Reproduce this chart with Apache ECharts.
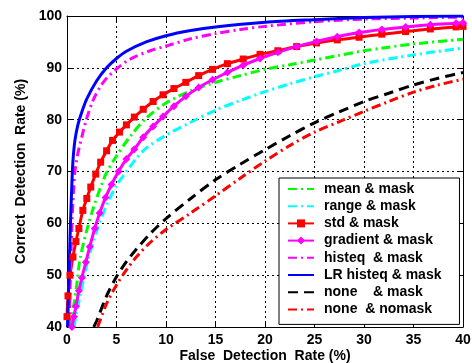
<!DOCTYPE html>
<html>
<head>
<meta charset="utf-8">
<script src="https://cdn.jsdelivr.net/npm/echarts@6/dist/echarts.min.js"></script>
<style>
  html, body { margin: 0; padding: 0; background: #fff; }
  #chart { width: 472px; height: 363px; }
</style>
</head>
<body>
<div id="chart"></div>
<script>
// ROC curves, [false detection %, correct detection %]
const meanMask = [[0.4,40],[0.5,42],[0.75,45],[1,48.4],[1.3,53],[2,58.7],[2.7,63.2],[3.5,67.5],[4,69.8],[5,73],[6.4,76.8],[8,80.3],[10,83.2],[12.5,85.6],[15,87.2],[17.5,88.5],[20,89.7],[22.5,90.6],[25,91.5],[27.5,92.4],[30,93.3],[35,94.6],[40,95.5]];
const rangeMask = [[0.7,40],[1,43],[1.3,45.8],[2,52],[3,58.5],[4,63.5],[5,67.3],[6,70],[7,72.5],[8,74.5],[10,77],[12.5,79.5],[15,81.8],[17.5,83.7],[20,85.4],[22.5,86.9],[25,88.3],[27.5,89.5],[30,90.8],[35,92.5],[40,93.8]];
const stdMask = [[0,42],[0.1,46],[0.3,50],[0.6,53.5],[0.9,56.5],[1.2,59],[1.6,62.5],[2,64.8],[2.4,67],[2.9,69.5],[3.4,71.8],[4,74],[4.6,76],[5.3,77.6],[6,79],[6.8,80.5],[7.7,82],[8.7,83.5],[9.7,84.8],[10.8,86],[12,87.2],[13.3,88.5],[14.7,89.7],[16.2,90.8],[17.8,91.7],[19.5,92.6],[21.3,93.3],[23.2,94.1],[25.2,94.8],[27.3,95.4],[29.5,95.9],[31.8,96.5],[34.2,97],[36.7,97.5],[39.3,97.9],[40,98]];
const gradientMask = [[0.5,40],[0.7,42],[0.9,44],[1.2,47],[1.5,49.5],[1.9,52.5],[2.3,55.5],[2.8,59],[3.3,62],[3.9,65],[4.5,67.5],[5.2,70],[6,72.4],[6.8,74.3],[7.7,76.6],[8.7,78.7],[9.7,80.6],[10.8,82.6],[12,84.5],[13.3,86.2],[14.7,87.7],[16.2,89.1],[17.8,90.5],[19.5,91.8],[21.3,93],[23.2,94.1],[25.2,95.1],[27.3,96],[29.5,96.8],[31.8,97.4],[34.2,97.9],[36.7,98.3],[39.3,98.6],[40,98.7]];
const histeqMask = [[0.2,40],[0.35,50],[0.5,60],[0.65,66],[0.8,70],[1.1,73.5],[1.5,76.7],[2,80.3],[2.7,84],[3.7,87.3],[5,89.8],[6.4,91.7],[8.4,93.3],[10,94.2],[12.5,95.6],[15,96.6],[17.5,97.4],[20,98],[25,98.9],[30,99.4],[35,99.6],[40,99.8]];
const lrHisteqMask = [[0.05,40],[0.2,50],[0.35,60],[0.5,68],[0.6,72],[0.8,76],[1.1,79],[1.5,81.5],[2,84],[3,87.5],[4,90],[5,91.8],[6,93.2],[8,95],[10,96.2],[12.5,97.2],[15,97.9],[20,98.8],[25,99.3],[30,99.7],[35,99.9],[40,100]];
const noneMask = [[2.7,40],[3,41.2],[4,46],[5,49.7],[6,52.6],[7,55],[8.4,58],[10,60.9],[12.5,64.8],[15,68.4],[17.5,71.4],[20,74.2],[22.5,76.9],[25,79.4],[27.5,81.5],[30,83.5],[32.5,85.1],[35,86.7],[37.5,88],[40,89.1]];
const noneNomask = [[3.1,40],[4,44.5],[5,48.1],[6,51],[7,53.5],[8.4,56.3],[10,58.8],[12.5,62],[15,65.3],[17.5,68.7],[20,72],[22.5,75],[25,77.6],[27.5,79.6],[30,81.6],[32.5,83.5],[35,85.3],[37.5,86.7],[40,87.8]];

const seriesNames = ["mean & mask", "range & mask", "std & mask", "gradient & mask", "histeq  & mask", "LR histeq & mask", "none    & mask", "none  & nomask"];
// legend entries that show a marker next to the line
const withMarker = ["std & mask", "gradient & mask"];

const font = "'Liberation Sans', Arial, sans-serif";
const dashDot = [9, 4, 2, 4];

const chart = echarts.init(document.getElementById("chart"), null, { renderer: "canvas" });

function line(name, data, color, type, extra) {
  return Object.assign({
    name,
    type: "line",
    data,
    smooth: 0.3,
    symbol: "none",
    lineStyle: { color, width: 3, type },
    itemStyle: { color },
    z: 3
  }, extra || {});
}

const axisText = { color: "#000", fontFamily: font, fontWeight: "bold", fontSize: 14 };

chart.setOption({
  animation: false,
  backgroundColor: "#fff",
  grid: { left: 67, right: 9, top: 16, bottom: 36, show: false, outerBoundsMode: "none", containLabel: false },
  legend: {
    orient: "vertical",
    left: 279,
    top: 178,
    width: 160,
    padding: [4, 18, 8, 8],
    itemWidth: 26,
    itemHeight: 10,
    itemGap: 3.2,
    textStyle: { color: "#000", fontFamily: font, fontWeight: "bold", fontSize: 14, padding: [0, 0, 0, 5] },
    backgroundColor: "#fff",
    borderColor: "#000",
    borderWidth: 1,
    data: seriesNames.map((n) => withMarker.includes(n)
      ? { name: n }
      : { name: n, itemStyle: { color: "transparent", borderWidth: 0 } })
  },
  xAxis: [{
    type: "value", min: 0, max: 40, interval: 5,
    name: "False  Detection  Rate (%)", nameLocation: "middle", nameGap: 22, nameMoveOverlap: false,
    nameTextStyle: Object.assign({ verticalAlign: "top" }, axisText),
    axisLine: { onZero: false, lineStyle: { color: "#000", width: 1 } },
    axisTick: { inside: true, length: 5, lineStyle: { color: "#000" } },
    axisLabel: Object.assign({ margin: 6 }, axisText),
    splitLine: { show: true, lineStyle: { color: "#000", type: [2, 3], width: 1 } }
  }, {
    type: "value", min: 0, max: 40, interval: 5, position: "top",
    axisLine: { onZero: false, lineStyle: { color: "#000", width: 1 } },
    axisTick: { inside: true, length: 5, lineStyle: { color: "#000" } },
    axisLabel: { show: false }, splitLine: { show: false }
  }],
  yAxis: [{
    type: "value", min: 40, max: 100, interval: 10,
    name: "Correct  Detection  Rate (%)", nameLocation: "middle", nameGap: 37,
    nameTextStyle: axisText,
    axisLine: { show: true, onZero: false, lineStyle: { color: "#000", width: 1 } },
    axisTick: { show: true, inside: true, length: 5, lineStyle: { color: "#000" } },
    axisLabel: Object.assign({ margin: 5 }, axisText),
    splitLine: { show: true, lineStyle: { color: "#000", type: [2, 3], width: 1 } }
  }, {
    type: "value", min: 40, max: 100, interval: 10, position: "right",
    axisLine: { show: true, onZero: false, lineStyle: { color: "#000", width: 1 } },
    axisTick: { show: true, inside: true, length: 5, lineStyle: { color: "#000" } },
    axisLabel: { show: false }, splitLine: { show: false }
  }],
  series: [
    line(seriesNames[0], meanMask, "#00ff00", dashDot),
    line(seriesNames[1], rangeMask, "#00ffff", dashDot),
    line(seriesNames[2], stdMask, "#ff0000", "solid", { symbol: "rect", symbolSize: 7, showSymbol: true }),
    line(seriesNames[3], gradientMask, "#ff00ff", "solid", { symbol: "diamond", symbolSize: 8, showSymbol: true }),
    line(seriesNames[4], histeqMask, "#ff00ff", dashDot),
    line(seriesNames[5], lrHisteqMask, "#0000ff", "solid"),
    line(seriesNames[6], noneMask, "#000000", [10, 6]),
    line(seriesNames[7], noneNomask, "#ff0000", dashDot)
  ]
});
</script>
</body>
</html>
